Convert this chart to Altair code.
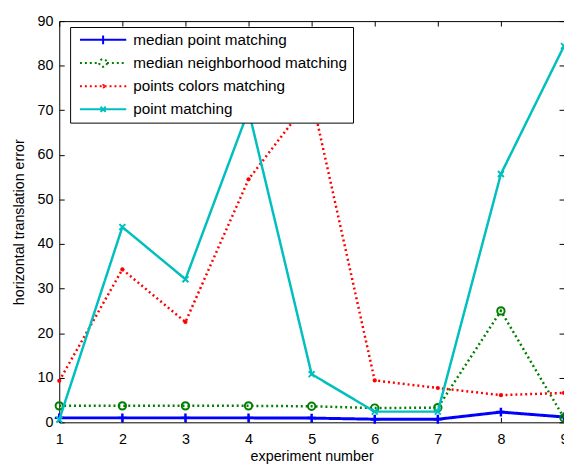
import altair as alt
import pandas as pd

# ---------------- data ----------------
experiments = [1, 2, 3, 4, 5, 6, 7, 8, 9]
series_names = [
    "median point matching",
    "median neighborhood matching",
    "points colors matching",
    "point matching",
]
median_point = [1.0, 1.0, 1.0, 1.0, 0.95, 0.7, 0.7, 2.3, 1.2]
median_neighborhood = [3.7, 3.7, 3.7, 3.7, 3.6, 3.2, 3.3, 25.0, 1.0]
points_colors = [9.3, 34.3, 22.5, 54.5, 73.0, 9.4, 7.7, 6.1, 6.6]
point_matching = [0.6, 43.8, 32.1, 70.0, 10.8, 2.4, 2.4, 55.7, 84.4]
y_ticks = [0, 10, 20, 30, 40, 50, 60, 70, 80, 90]

series_values = [median_point, median_neighborhood, points_colors, point_matching]
colors = ["#0000ff", "#008000", "#ff0000", "#00bfbf"]
line_widths = [3, 2.5, 2.5, 2.5]
line_dashes = [[1, 0], [2, 3], [2, 3], [1, 0]]
marker_shapes = ["M0,-1L0,1M-1,0L1,0", "circle", "circle", "M-1,-1L1,1M-1,1L1,-1"]
marker_sizes = [81, 56, 18, 36]
marker_filled = [False, False, True, False]
marker_stroke = [2.5, 2, 1, 2]

# legend symbols: a line segment with the marker in its middle
legend_paths = [
    "M-0.846,0L0.96,0M0.057,-0.17L0.057,0.17",
    "M-0.846,0L-0.093,0M0.207,0L0.96,0M0.207,0A0.15,0.15 0 1,1 -0.093,0A0.15,0.15 0 1,1 0.207,0",
    "M-0.846,0L0.96,0M0.107,0A0.05,0.05 0 1,1 0.007,0A0.05,0.05 0 1,1 0.107,0",
    "M-0.846,0L0.96,0M-0.043,-0.1L0.157,0.1M-0.043,0.1L0.157,-0.1",
]

rows = []
for name, vals in zip(series_names, series_values):
    for x, v in zip(experiments, vals):
        rows.append({"experiment": x, "error": v, "series": name})
df = pd.DataFrame(rows)

W, H = 512, 407
FONT = "Liberation Sans"
xscale = alt.Scale(domain=[1, 9], nice=False, zero=False)
yscale = alt.Scale(domain=[0, 90], nice=False)

common = dict(labelFont=FONT, titleFont=FONT, labelFontSize=14.5, titleFontSize=14.5,
              labelColor="black", titleColor="black", tickColor="black",
              titleFontWeight="normal", domain=False, grid=False,
              labelFlush=False, labelOverlap=False, labelBound=False)

# labelled axes, placed on the opposite side so that ticks point inward
x_main = alt.Axis(orient="top", offset=-H, values=experiments, format="d", tickSize=5,
                  labelPadding=-22, labelBaseline="middle", title="experiment number",
                  titleX=W / 2, titleY=35, titleAlign="center", titleBaseline="middle",
                  titleAngle=0, **common)
y_main = alt.Axis(orient="right", offset=-W, values=y_ticks, format="d", tickSize=5,
                  labelPadding=-11.5, labelAlign="right", labelBaseline="middle",
                  title="horizontal translation error", titleAngle=270, titleX=-40,
                  titleY=H / 2, titleAlign="center", titleBaseline="middle", **common)
x_mirror = alt.Axis(orient="bottom", offset=-H, values=experiments, tickSize=5,
                    labels=False, title=None, domain=False, grid=False, tickColor="black")
y_mirror = alt.Axis(orient="left", offset=-W, values=y_ticks, tickSize=5,
                    labels=False, title=None, domain=False, grid=False, tickColor="black")

layers = []
for i, name in enumerate(series_names):
    sub = df[df["series"] == name]
    if i == 0:
        xl, yl = x_main, y_main
        xp, yp = x_mirror, y_mirror
    else:
        xl = yl = xp = yp = None
    line = alt.Chart(sub).mark_line(
        color=colors[i], strokeWidth=line_widths[i], strokeDash=line_dashes[i]
    ).encode(
        x=alt.X("experiment:Q", scale=xscale, axis=xl),
        y=alt.Y("error:Q", scale=yscale, axis=yl),
        order="experiment:Q",
    )
    pts = alt.Chart(sub).mark_point(
        shape=marker_shapes[i], size=marker_sizes[i], filled=marker_filled[i],
        color=colors[i], strokeWidth=marker_stroke[i], opacity=1
    ).encode(
        x=alt.X("experiment:Q", scale=xscale, axis=xp),
        y=alt.Y("error:Q", scale=yscale, axis=yp),
    )
    layers += [line, pts]

# invisible (clipped) layer that only carries the legend
legend_df = pd.DataFrame({"series": series_names, "experiment": [5] * 4, "error": [-1000] * 4})
legend_layer = alt.Chart(legend_df).mark_point(clip=True, filled=False, strokeWidth=2).encode(
    x=alt.X("experiment:Q", scale=xscale, axis=None),
    y=alt.Y("error:Q", scale=yscale, axis=None),
    color=alt.Color("series:N", scale=alt.Scale(domain=series_names, range=colors),
                    legend=alt.Legend(orient="none", legendX=11, legendY=6, title=None)),
    shape=alt.Shape("series:N", scale=alt.Scale(domain=series_names, range=legend_paths)),
    strokeDash=alt.StrokeDash("series:N", scale=alt.Scale(domain=series_names, range=line_dashes)),
)
layers.append(legend_layer)

chart = alt.layer(*layers).properties(
    width=W, height=H,
    padding={"left": 52, "top": 10, "right": 0, "bottom": 41},
    autosize=alt.AutoSizeParams(type="none"),
).configure_view(stroke="black", strokeWidth=1).configure_legend(
    padding=5, fillColor="white", strokeColor="black", strokeWidth=1,
    symbolSize=2704, clipHeight=16, rowPadding=6.5, labelFontSize=15.5, labelFont=FONT,
    labelColor="black", labelOffset=5, symbolStrokeWidth=2, symbolOpacity=1,
    labelLimit=400,
)

chart.save("out.html", embed_options={"renderer": "svg", "actions": False})
